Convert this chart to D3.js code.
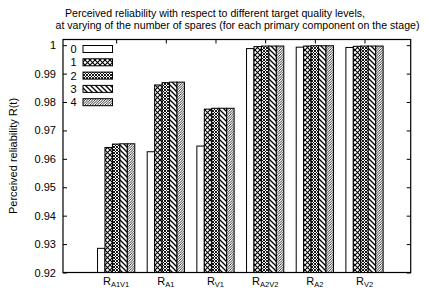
<!DOCTYPE html>
<html><head><meta charset="utf-8">
<script src="https://cdn.jsdelivr.net/npm/d3@7"></script>
<style>body{margin:0;background:#fff}svg{display:block}</style>
</head><body>
<script>
const categories = [["R","A1V1"],["R","A1"],["R","V1"],["R","A2V2"],["R","A2"],["R","V2"]];
const seriesNames = ["0","1","2","3","4"];
const values = [
  [0.9285, 0.9625, 0.9645, 0.9988, 0.9993, 0.9992],
  [0.9640, 0.9860, 0.9775, 0.9995, 0.9997, 0.9996],
  [0.9652, 0.9868, 0.9778, 0.9997, 0.9998, 0.9997],
  [0.9653, 0.9870, 0.9778, 0.9997, 0.9998, 0.9997],
  [0.9653, 0.9870, 0.9778, 0.9997, 0.9998, 0.9997]
];
const yTicks = [0.92,0.93,0.94,0.95,0.96,0.97,0.98,0.99,1];
const yTickLabels = ["0.92","0.93","0.94","0.95","0.96","0.97","0.98","0.99","1"];
const titleLines = ["Perceived reliability with respect to different target quality levels,",
  "at varying of the number of spares (for each primary component on the stage)"];
const yLabel = "Perceived reliability R(t)";

const W=430,H=288;
const L=63,R=410.7,T=39.5,B=272.5;
const font="'Liberation Sans', Arial, sans-serif";
const svg=d3.select("body").append("svg").attr("width",W).attr("height",H)
  .style("font-family",font);

const defs=svg.append("defs");
function pat(id,size,paths,sw){
  const p=defs.append("pattern").attr("id",id).attr("patternUnits","userSpaceOnUse")
    .attr("width",size).attr("height",size);
  p.append("rect").attr("width",size).attr("height",size).attr("fill","#fff");
  paths.forEach(d=>p.append("path").attr("d",d).attr("stroke","#000").attr("stroke-width",sw).attr("fill","none"));
}
pat("p1",5,["M0,0L5,5M5,0L0,5","M-1,4L1,6M4,-1L6,1","M-1,1L1,-1M4,6L6,4"],1.1);
pat("p2",3,["M0,0L3,3M3,0L0,3"],0.9);
pat("p3",5,["M0,0L5,5M-1,4L1,6M4,-1L6,1"],1.3);
pat("p4",2.5,["M0,2.5L2.5,0M-0.5,0.5L0.5,-0.5M2,3L3,2"],0.8);
const fills=["#fff","url(#p1)","url(#p2)","url(#p3)","url(#p4)"];

const x=d3.scaleLinear().domain([-1.07,5.93]).range([L,R]);
const y=d3.scaleLinear().domain([0.92,1.002]).range([B,T]);
const bw=0.15;

const tickLen=4;
const yl=svg.append("g").attr("transform",`translate(${L},0)`)
  .call(d3.axisLeft(y).tickValues(yTicks).tickFormat((d,i)=>yTickLabels[i]).tickSize(-tickLen).tickPadding(7));
const yr=svg.append("g").attr("transform",`translate(${R},0)`)
  .call(d3.axisRight(y).tickValues(yTicks).tickFormat("").tickSize(-tickLen));
const xt=svg.append("g").attr("transform",`translate(0,${T})`)
  .call(d3.axisTop(x).tickValues(d3.range(categories.length)).tickFormat("").tickSize(-tickLen));
[yl,yr,xt].forEach(g=>{g.select(".domain").remove();g.selectAll("line").attr("stroke","#000");
  g.selectAll("text").attr("font-size",11).attr("font-family",font).attr("fill","#000");});

const bars=svg.append("g");
values.forEach((vals,j)=>{
  bars.selectAll(null).data(vals).enter().append("rect")
    .attr("x",(d,i)=>x(i+(j-2.5)*bw))
    .attr("width",x(bw)-x(0))
    .attr("y",d=>y(d))
    .attr("height",d=>B-y(d))
    .attr("fill",fills[j]).attr("stroke","#000").attr("stroke-width",1);
});

svg.append("rect").attr("x",L).attr("y",T).attr("width",R-L).attr("height",B-T)
  .attr("fill","none").attr("stroke","#000").attr("stroke-width",1.2);

const xl=svg.append("g");
categories.forEach((c,i)=>{
  const t=xl.append("text").attr("x",x(i)).attr("y",284.5).attr("text-anchor","middle")
    .attr("font-size",11).attr("fill","#000");
  t.append("tspan").text(c[0]);
  t.append("tspan").attr("font-size",7.5).attr("dy",2.5).text(c[1]);
});

const lg=svg.append("g");
seriesNames.forEach((s,j)=>{
  const cy=49+j*13.3;
  lg.append("text").attr("x",76.5).attr("y",cy+4).attr("text-anchor","end")
    .attr("font-size",11).text(s);
  lg.append("rect").attr("x",83).attr("y",cy-3.5).attr("width",29.5).attr("height",7)
    .attr("fill",fills[j]).attr("stroke","#000").attr("stroke-width",1);
});

svg.append("text").attr("x",215).attr("y",16.5).attr("text-anchor","middle").attr("font-size",10.6).text(titleLines[0]);
svg.append("text").attr("x",237.5).attr("y",28.5).attr("text-anchor","middle").attr("font-size",10.6).text(titleLines[1]);

svg.append("text").attr("transform",`translate(17,${(T+B)/2}) rotate(-90)`)
  .attr("text-anchor","middle").attr("font-size",11).text(yLabel);
</script>
</body></html>
